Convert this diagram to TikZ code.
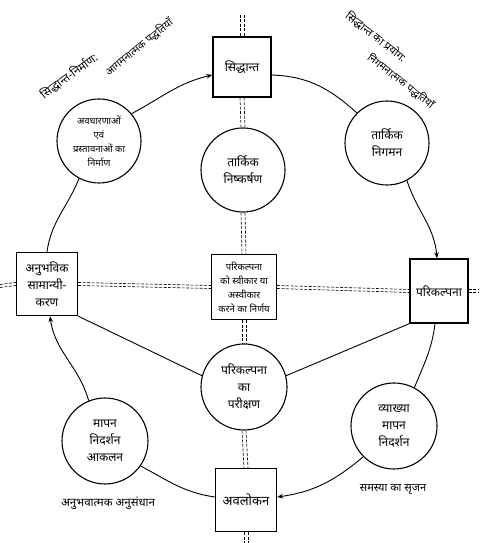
\documentclass[tikz,border=0pt]{standalone}
\usepackage{fontspec}
\newfontfamily\dev[Script=Devanagari]{Noto Sans}
\usetikzlibrary{arrows.meta}
\newcommand\fs[2]{\dev\fontsize{#1}{#2}\selectfont}
\tikzset{
  lbl/.style={font=\fs{11}{13}, align=center, inner sep=0pt},
  circ/.style={circle, draw, line width=1.1pt, minimum size=84pt, inner sep=0pt, align=center, font=\fs{12}{17}},
  sbox/.style={rectangle, draw, line width=1.3pt, inner sep=0pt, align=center, font=\fs{12}{17}},
  conn/.style={line width=0.9pt},
  arr/.style={line width=0.9pt, -{Stealth[length=6pt,width=4.5pt]}},
  axis/.style={line width=0.6pt, dash pattern=on 3pt off 1.5pt},
}
\begin{document}
\begin{tikzpicture}
\useasboundingbox (0,0) rectangle (479pt,543pt);
% boxes
\node[sbox, minimum width=58pt, minimum height=60pt] (top) at (242pt,476pt) {सिद्धान्त};
\node[sbox, minimum width=61pt, minimum height=63pt] (left) at (47pt,259pt) {अनुभविक\\सामान्यी-\\करण};
\node[sbox, minimum width=65pt, minimum height=65pt, font=\fs{9.5}{14}] (mid) at (244pt,256pt) {परिकल्पना\\को स्वीकार या\\अस्वीकार\\करने का निर्णय};
\node[sbox, minimum width=58pt, minimum height=64pt] (right) at (439pt,252pt) {परिकल्पना};
\node[sbox, minimum width=61pt, minimum height=63pt, font=\fs{13}{17}] (bot) at (246pt,43pt) {अवलोकन};
% circles
\node[circ, font=\fs{9.5}{14}] (cul) at (99pt,402pt) {अवधारणाओं\\एवं\\प्रस्तावनाओं का\\निर्माण};
\node[circ] (cur) at (387pt,400pt) {तार्किक\\निगमन};
\node[circ] (ccu) at (243pt,373pt) {तार्किक\\निष्कर्षण};
\node[circ, minimum size=86pt] (ccl) at (244pt,156pt) {परिकल्पना\\का\\परीक्षण};
\node[circ, minimum size=86pt] (cll) at (105pt,102pt) {मापन\\निदर्शन\\आकलन};
\node[circ, minimum size=86pt] (clr) at (394pt,117pt) {व्याख्या\\मापन\\निदर्शन};
% side labels
\node[lbl, rotate=36, font=\fs{11.5}{13}] (tl1) at (69pt,467pt) {सिद्धान्त-निर्माण:};
\node[lbl, rotate=39, font=\fs{10.5}{13}] (tl2) at (139pt,496pt) {आगमनात्मक पद्धतियाँ};
\node[lbl, rotate=-38, font=\fs{11}{13}] (tr1) at (376pt,506pt) {सिद्धान्त का प्रयोग:};
\node[lbl, rotate=-38, font=\fs{10.5}{13}] (tr2) at (401pt,462pt) {निगमनात्मक पद्धतियाँ};
\node[lbl, font=\fs{11.5}{13}] (bl) at (108pt,40pt) {अनुभवात्मक अनुसंधान};
\node[lbl, font=\fs{11}{13}] (br) at (393pt,53pt) {समस्या का सृजन};
% free ends of the axes
\coordinate (vt) at (242pt,528pt);
\coordinate (vb) at (246pt,0pt);
\coordinate (hl) at (0pt,257pt);
\coordinate (hr) at (479pt,252pt);
% vertical axis (double dashed)
\foreach \a/\b in {vt/top.north, top.south/ccu.north, ccu.south/mid.north, mid.south/ccl.north, ccl.south/bot.north, bot.south/vb}{
  \draw[axis] ([xshift=-2pt]\a) -- ([xshift=-2pt]\b);
  \draw[axis] ([xshift=2pt]\a) -- ([xshift=2pt]\b);
}
% horizontal axis (double dashed)
\foreach \a/\b in {hl/left.west, left.east/mid.west, mid.east/right.west, right.east/hr}{
  \draw[axis] ([yshift=-1.5pt]\a) -- ([yshift=-1.5pt]\b);
  \draw[axis] ([yshift=1.5pt]\a) -- ([yshift=1.5pt]\b);
}
% wheel
\draw[arr] (cul.40) to[out=28, in=193] ([yshift=-8pt]top.west);
\draw[conn] ([yshift=-8pt]top.east) to[out=-2, in=138] (cur.135);
\draw[arr] (cur.-62) to[out=-72, in=95] ([xshift=-2pt]right.north);
\draw[conn] ([xshift=-4pt]right.south) to[out=-97, in=68] (clr.62);
\draw[arr] (clr.-135) to[out=-140, in=8] ([yshift=3pt]bot.east);
\draw[conn] ([yshift=3pt]bot.west) to[out=172, in=-28] (cll.-35);
\draw[arr] (cll.112) to[out=106, in=-82] ([xshift=3pt]left.south);
\draw[conn] (left.north) to[out=82, in=-112] (cul.-118);
% spokes
\draw[conn] (left.south east) -- (ccl.165);
\draw[conn] (right.south west) -- (ccl.15);
\end{tikzpicture}
\end{document}
